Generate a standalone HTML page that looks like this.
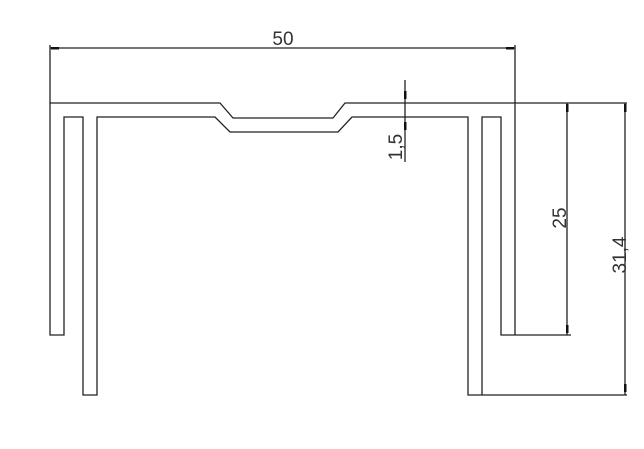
<!DOCTYPE html>
<html><head><style>body{margin:0;background:#fff}svg{display:block}</style></head><body>
<svg width="644" height="449" xmlns="http://www.w3.org/2000/svg">
<rect width="644" height="449" fill="#fff"/>
<g fill="none" stroke="#222" stroke-width="1.3">
<polyline points="627,103 345,103 333,118 233,118 220,103 50,103 50,335 64,335 64,117 83,117 83,395 97,395 97,117 215,117 230,132 338,132 352,117 468,117 468,395 627,395"/>
<polyline points="482,395 482,117 501,117 501,335 571,335"/>
<polyline points="515,335 515,45"/>
<line x1="50" y1="45" x2="50" y2="103"/>
<line x1="50" y1="48" x2="515" y2="48"/>
<line x1="405" y1="80" x2="405" y2="162"/>
<line x1="567" y1="103" x2="567" y2="335"/>
<line x1="625" y1="103" x2="625" y2="395"/>
</g>
<g fill="#111">
<rect x="51" y="47" width="8" height="2.5"/>
<rect x="506" y="47" width="8" height="2.5"/>
<rect x="404" y="91" width="2.5" height="8"/>
<rect x="404" y="122" width="2.5" height="8"/>
<rect x="566" y="104" width="2.5" height="8"/>
<rect x="566" y="325" width="2.5" height="8"/>
<rect x="624" y="104" width="2.5" height="8"/>
<rect x="624" y="384" width="2.5" height="8"/>
</g>
<g font-family="Liberation Sans, sans-serif" font-size="19" fill="#333" text-anchor="middle">
<text x="283" y="45">50</text>
<text transform="translate(402,147) rotate(-90)">1,5</text>
<text transform="translate(566,218) rotate(-90)">25</text>
<text transform="translate(626,255) rotate(-90)">31,4</text>
</g>
</svg>
</body></html>
